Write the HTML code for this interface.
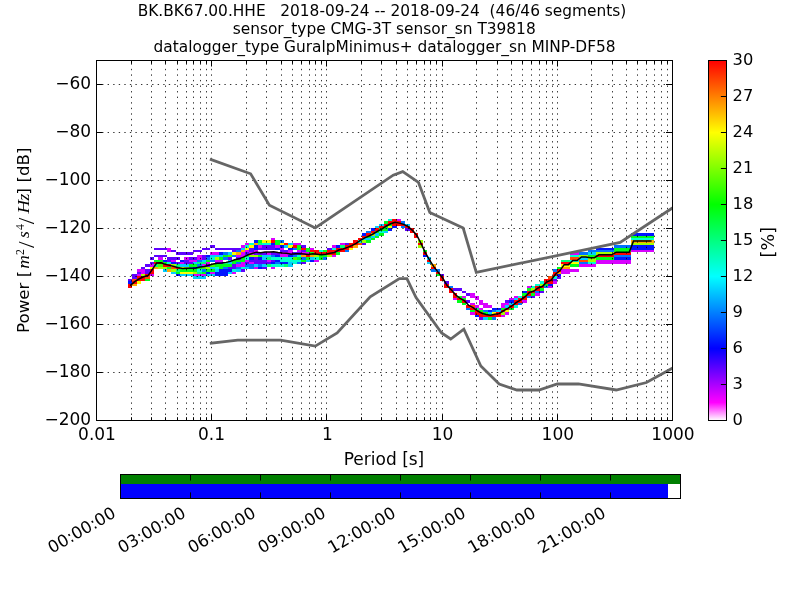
<!DOCTYPE html>
<html lang="en"><head><meta charset="utf-8"><title>PPSD BK.BK67.00.HHE</title>
<style>html,body{margin:0;padding:0;background:#fff;}svg{display:block;}text{font-family:"DejaVu Sans", "Liberation Sans", sans-serif;font-size:16.67px;fill:#000;}.m{font-family:"Liberation Serif", "DejaVu Serif", serif;font-style:italic;}.r{font-family:"Liberation Serif", "DejaVu Serif", serif;}.h{font-size:17px;}</style>
</head><body>
<svg width="800" height="600" viewBox="0 0 800 600">
<rect x="0" y="0" width="800" height="600" fill="#fff"/>
<defs><clipPath id="axclip"><rect x="96" y="60" width="576" height="360"/></clipPath>
<linearGradient id="pqlx" x1="0" y1="1" x2="0" y2="0">
<stop offset="0" stop-color="#ffffff"/>
<stop offset="0.05" stop-color="#ff00ff"/>
<stop offset="0.2" stop-color="#0000ff"/>
<stop offset="0.4" stop-color="#00ffff"/>
<stop offset="0.6" stop-color="#00ff00"/>
<stop offset="0.8" stop-color="#ffff00"/>
<stop offset="1" stop-color="#ff0000"/>
</linearGradient></defs>
<g opacity="0.999">
<text x="382" y="16" text-anchor="middle" style="font-size:15.38px" xml:space="preserve">BK.BK67.00.HHE   2018-09-24 -- 2018-09-24  (46/46 segments)</text>
<text x="384.2" y="34" text-anchor="middle" style="font-size:15.38px" xml:space="preserve">sensor_type CMG-3T sensor_sn T39818</text>
<text x="384.6" y="52" text-anchor="middle" style="font-size:15.38px" xml:space="preserve">datalogger_type GuralpMinimus+ datalogger_sn MINP-DF58</text>
<g shape-rendering="crispEdges" clip-path="url(#axclip)">
<rect x="388" y="219" width="4" height="2" fill="#00ffd3"/>
<rect x="392" y="219" width="5" height="2" fill="#ff0000"/>
<rect x="397" y="219" width="4" height="2" fill="#d900ff"/>
<rect x="384" y="221" width="4" height="3" fill="#00ff1a"/>
<rect x="388" y="221" width="13" height="3" fill="#ff0000"/>
<rect x="401" y="221" width="4" height="3" fill="#0073ff"/>
<rect x="379" y="224" width="5" height="2" fill="#00cfff"/>
<rect x="384" y="224" width="4" height="2" fill="#ff0000"/>
<rect x="388" y="224" width="4" height="2" fill="#00ff1a"/>
<rect x="392" y="224" width="13" height="2" fill="#ff0000"/>
<rect x="405" y="224" width="5" height="2" fill="#00cfff"/>
<rect x="375" y="226" width="4" height="2" fill="#00cfff"/>
<rect x="379" y="226" width="5" height="2" fill="#ff0000"/>
<rect x="384" y="226" width="4" height="2" fill="#00ff1a"/>
<rect x="388" y="226" width="4" height="2" fill="#fbff00"/>
<rect x="392" y="226" width="5" height="2" fill="#0016ff"/>
<rect x="401" y="226" width="4" height="2" fill="#0073ff"/>
<rect x="405" y="226" width="5" height="2" fill="#ff0000"/>
<rect x="371" y="228" width="4" height="3" fill="#0016ff"/>
<rect x="375" y="228" width="4" height="3" fill="#ff0000"/>
<rect x="379" y="228" width="9" height="3" fill="#00ff1a"/>
<rect x="388" y="228" width="4" height="3" fill="#0016ff"/>
<rect x="405" y="228" width="5" height="3" fill="#5e00ff"/>
<rect x="410" y="228" width="4" height="3" fill="#ff0000"/>
<rect x="366" y="231" width="5" height="2" fill="#0073ff"/>
<rect x="371" y="231" width="4" height="2" fill="#ff0000"/>
<rect x="375" y="231" width="4" height="2" fill="#00ff1a"/>
<rect x="379" y="231" width="5" height="2" fill="#00ffd3"/>
<rect x="384" y="231" width="4" height="2" fill="#00cfff"/>
<rect x="410" y="231" width="4" height="2" fill="#ff0000"/>
<rect x="362" y="233" width="4" height="3" fill="#0016ff"/>
<rect x="366" y="233" width="5" height="3" fill="#ff0000"/>
<rect x="371" y="233" width="4" height="3" fill="#9fff00"/>
<rect x="375" y="233" width="4" height="3" fill="#00cfff"/>
<rect x="379" y="233" width="5" height="3" fill="#00ff1a"/>
<rect x="414" y="233" width="4" height="3" fill="#ff0000"/>
<rect x="631" y="233" width="23" height="3" fill="#0016ff"/>
<rect x="362" y="236" width="4" height="2" fill="#ff0000"/>
<rect x="366" y="236" width="5" height="2" fill="#00ff1a"/>
<rect x="371" y="236" width="4" height="2" fill="#00cfff"/>
<rect x="375" y="236" width="4" height="2" fill="#00ff1a"/>
<rect x="414" y="236" width="4" height="2" fill="#ff0000"/>
<rect x="631" y="236" width="23" height="2" fill="#00ff1a"/>
<rect x="271" y="238" width="4" height="2" fill="#d900ff"/>
<rect x="358" y="238" width="4" height="2" fill="#ff0000"/>
<rect x="362" y="238" width="9" height="2" fill="#00cfff"/>
<rect x="371" y="238" width="4" height="2" fill="#00ff1a"/>
<rect x="631" y="238" width="23" height="2" fill="#00ffd3"/>
<rect x="254" y="240" width="4" height="3" fill="#0016ff"/>
<rect x="258" y="240" width="4" height="3" fill="#00ff1a"/>
<rect x="262" y="240" width="9" height="3" fill="#fbff00"/>
<rect x="271" y="240" width="4" height="3" fill="#ff0000"/>
<rect x="275" y="240" width="5" height="3" fill="#00ff1a"/>
<rect x="280" y="240" width="4" height="3" fill="#0073ff"/>
<rect x="353" y="240" width="5" height="3" fill="#ff0000"/>
<rect x="358" y="240" width="4" height="3" fill="#00ffd3"/>
<rect x="362" y="240" width="4" height="3" fill="#9fff00"/>
<rect x="366" y="240" width="5" height="3" fill="#00ff1a"/>
<rect x="418" y="240" width="5" height="3" fill="#9fff00"/>
<rect x="631" y="240" width="23" height="3" fill="#ffa600"/>
<rect x="245" y="243" width="4" height="2" fill="#d900ff"/>
<rect x="249" y="243" width="5" height="2" fill="#00ffd3"/>
<rect x="254" y="243" width="4" height="2" fill="#ffa600"/>
<rect x="258" y="243" width="4" height="2" fill="#00ff76"/>
<rect x="262" y="243" width="9" height="2" fill="#00ffd3"/>
<rect x="271" y="243" width="4" height="2" fill="#0016ff"/>
<rect x="275" y="243" width="5" height="2" fill="#00ff1a"/>
<rect x="280" y="243" width="4" height="2" fill="#fbff00"/>
<rect x="284" y="243" width="4" height="2" fill="#ff0000"/>
<rect x="288" y="243" width="5" height="2" fill="#00cfff"/>
<rect x="293" y="243" width="8" height="2" fill="#d900ff"/>
<rect x="340" y="243" width="5" height="2" fill="#d900ff"/>
<rect x="345" y="243" width="4" height="2" fill="#5e00ff"/>
<rect x="349" y="243" width="9" height="2" fill="#ff0000"/>
<rect x="358" y="243" width="4" height="2" fill="#ff4a00"/>
<rect x="362" y="243" width="4" height="2" fill="#5e00ff"/>
<rect x="418" y="243" width="5" height="2" fill="#ff0000"/>
<rect x="631" y="243" width="23" height="2" fill="#9fff00"/>
<rect x="210" y="245" width="5" height="3" fill="#5e00ff"/>
<rect x="241" y="245" width="4" height="3" fill="#d900ff"/>
<rect x="245" y="245" width="4" height="3" fill="#00ffd3"/>
<rect x="249" y="245" width="5" height="3" fill="#fbff00"/>
<rect x="254" y="245" width="4" height="3" fill="#0016ff"/>
<rect x="258" y="245" width="4" height="3" fill="#d900ff"/>
<rect x="262" y="245" width="13" height="3" fill="#5e00ff"/>
<rect x="275" y="245" width="5" height="3" fill="#d900ff"/>
<rect x="280" y="245" width="4" height="3" fill="#0016ff"/>
<rect x="284" y="245" width="4" height="3" fill="#00cfff"/>
<rect x="288" y="245" width="5" height="3" fill="#fbff00"/>
<rect x="293" y="245" width="4" height="3" fill="#ff0000"/>
<rect x="297" y="245" width="4" height="3" fill="#00ff1a"/>
<rect x="301" y="245" width="5" height="3" fill="#5e00ff"/>
<rect x="332" y="245" width="4" height="3" fill="#d900ff"/>
<rect x="336" y="245" width="4" height="3" fill="#0016ff"/>
<rect x="340" y="245" width="5" height="3" fill="#00ff76"/>
<rect x="345" y="245" width="8" height="3" fill="#ff0000"/>
<rect x="353" y="245" width="5" height="3" fill="#ffa600"/>
<rect x="418" y="245" width="5" height="3" fill="#9fff00"/>
<rect x="614" y="245" width="17" height="3" fill="#0073ff"/>
<rect x="631" y="245" width="23" height="3" fill="#0016ff"/>
<rect x="154" y="248" width="13" height="2" fill="#5e00ff"/>
<rect x="167" y="248" width="4" height="2" fill="#d900ff"/>
<rect x="202" y="248" width="8" height="2" fill="#5e00ff"/>
<rect x="215" y="248" width="26" height="2" fill="#5e00ff"/>
<rect x="241" y="248" width="4" height="2" fill="#00cfff"/>
<rect x="245" y="248" width="4" height="2" fill="#fbff00"/>
<rect x="249" y="248" width="5" height="2" fill="#5e00ff"/>
<rect x="254" y="248" width="4" height="2" fill="#0016ff"/>
<rect x="258" y="248" width="17" height="2" fill="#5e00ff"/>
<rect x="275" y="248" width="5" height="2" fill="#0016ff"/>
<rect x="280" y="248" width="4" height="2" fill="#d900ff"/>
<rect x="288" y="248" width="5" height="2" fill="#0016ff"/>
<rect x="293" y="248" width="4" height="2" fill="#0073ff"/>
<rect x="297" y="248" width="4" height="2" fill="#00ff1a"/>
<rect x="301" y="248" width="5" height="2" fill="#ff0000"/>
<rect x="306" y="248" width="4" height="2" fill="#00ff1a"/>
<rect x="310" y="248" width="4" height="2" fill="#d900ff"/>
<rect x="327" y="248" width="5" height="2" fill="#5e00ff"/>
<rect x="332" y="248" width="4" height="2" fill="#00ffd3"/>
<rect x="336" y="248" width="13" height="2" fill="#ff0000"/>
<rect x="349" y="248" width="4" height="2" fill="#fbff00"/>
<rect x="596" y="248" width="18" height="2" fill="#0016ff"/>
<rect x="614" y="248" width="17" height="2" fill="#00ff1a"/>
<rect x="631" y="248" width="23" height="2" fill="#0016ff"/>
<rect x="167" y="250" width="4" height="2" fill="#d900ff"/>
<rect x="171" y="250" width="5" height="2" fill="#5e00ff"/>
<rect x="193" y="250" width="9" height="2" fill="#5e00ff"/>
<rect x="232" y="250" width="4" height="2" fill="#5e00ff"/>
<rect x="236" y="250" width="5" height="2" fill="#0073ff"/>
<rect x="241" y="250" width="4" height="2" fill="#ffa600"/>
<rect x="245" y="250" width="4" height="2" fill="#d900ff"/>
<rect x="249" y="250" width="5" height="2" fill="#5e00ff"/>
<rect x="254" y="250" width="4" height="2" fill="#d900ff"/>
<rect x="280" y="250" width="8" height="2" fill="#5e00ff"/>
<rect x="288" y="250" width="5" height="2" fill="#d900ff"/>
<rect x="297" y="250" width="4" height="2" fill="#d900ff"/>
<rect x="301" y="250" width="5" height="2" fill="#5e00ff"/>
<rect x="306" y="250" width="4" height="2" fill="#00ff1a"/>
<rect x="310" y="250" width="9" height="2" fill="#ff0000"/>
<rect x="319" y="250" width="4" height="2" fill="#00ffd3"/>
<rect x="323" y="250" width="4" height="2" fill="#00ff1a"/>
<rect x="327" y="250" width="18" height="2" fill="#ff0000"/>
<rect x="345" y="250" width="4" height="2" fill="#0073ff"/>
<rect x="423" y="250" width="4" height="2" fill="#00ff1a"/>
<rect x="588" y="250" width="26" height="2" fill="#0073ff"/>
<rect x="614" y="250" width="17" height="2" fill="#00ff1a"/>
<rect x="631" y="250" width="23" height="2" fill="#d900ff"/>
<rect x="176" y="252" width="17" height="3" fill="#5e00ff"/>
<rect x="210" y="252" width="9" height="3" fill="#d900ff"/>
<rect x="219" y="252" width="4" height="3" fill="#0016ff"/>
<rect x="223" y="252" width="5" height="3" fill="#0073ff"/>
<rect x="228" y="252" width="4" height="3" fill="#00cfff"/>
<rect x="232" y="252" width="4" height="3" fill="#fbff00"/>
<rect x="236" y="252" width="5" height="3" fill="#ffa600"/>
<rect x="241" y="252" width="4" height="3" fill="#d900ff"/>
<rect x="245" y="252" width="4" height="3" fill="#5e00ff"/>
<rect x="249" y="252" width="5" height="3" fill="#d900ff"/>
<rect x="254" y="252" width="13" height="3" fill="#5e00ff"/>
<rect x="267" y="252" width="4" height="3" fill="#d900ff"/>
<rect x="271" y="252" width="9" height="3" fill="#5e00ff"/>
<rect x="280" y="252" width="13" height="3" fill="#d900ff"/>
<rect x="293" y="252" width="8" height="3" fill="#5e00ff"/>
<rect x="301" y="252" width="9" height="3" fill="#d900ff"/>
<rect x="310" y="252" width="4" height="3" fill="#00ff1a"/>
<rect x="314" y="252" width="22" height="3" fill="#ff0000"/>
<rect x="336" y="252" width="4" height="3" fill="#00ff1a"/>
<rect x="423" y="252" width="4" height="3" fill="#ff0000"/>
<rect x="570" y="252" width="9" height="3" fill="#d900ff"/>
<rect x="579" y="252" width="9" height="3" fill="#0073ff"/>
<rect x="588" y="252" width="8" height="3" fill="#00cfff"/>
<rect x="596" y="252" width="18" height="3" fill="#9fff00"/>
<rect x="614" y="252" width="17" height="3" fill="#ff0000"/>
<rect x="154" y="255" width="13" height="2" fill="#5e00ff"/>
<rect x="197" y="255" width="5" height="2" fill="#d900ff"/>
<rect x="202" y="255" width="4" height="2" fill="#5e00ff"/>
<rect x="206" y="255" width="4" height="2" fill="#0016ff"/>
<rect x="210" y="255" width="13" height="2" fill="#00cfff"/>
<rect x="223" y="255" width="5" height="2" fill="#00ff1a"/>
<rect x="228" y="255" width="4" height="2" fill="#43ff00"/>
<rect x="232" y="255" width="4" height="2" fill="#0073ff"/>
<rect x="236" y="255" width="9" height="2" fill="#d900ff"/>
<rect x="245" y="255" width="4" height="2" fill="#00ff76"/>
<rect x="249" y="255" width="9" height="2" fill="#9fff00"/>
<rect x="258" y="255" width="4" height="2" fill="#00ff1a"/>
<rect x="262" y="255" width="9" height="2" fill="#00cfff"/>
<rect x="271" y="255" width="4" height="2" fill="#0073ff"/>
<rect x="275" y="255" width="5" height="2" fill="#0016ff"/>
<rect x="280" y="255" width="8" height="2" fill="#d900ff"/>
<rect x="288" y="255" width="5" height="2" fill="#0016ff"/>
<rect x="293" y="255" width="4" height="2" fill="#0073ff"/>
<rect x="297" y="255" width="4" height="2" fill="#00ffd3"/>
<rect x="301" y="255" width="5" height="2" fill="#ffa600"/>
<rect x="306" y="255" width="4" height="2" fill="#ff0000"/>
<rect x="310" y="255" width="4" height="2" fill="#ffa600"/>
<rect x="314" y="255" width="5" height="2" fill="#9fff00"/>
<rect x="319" y="255" width="8" height="2" fill="#00ff1a"/>
<rect x="327" y="255" width="5" height="2" fill="#9fff00"/>
<rect x="332" y="255" width="4" height="2" fill="#d900ff"/>
<rect x="423" y="255" width="4" height="2" fill="#0016ff"/>
<rect x="570" y="255" width="9" height="2" fill="#00ffd3"/>
<rect x="579" y="255" width="9" height="2" fill="#9fff00"/>
<rect x="588" y="255" width="8" height="2" fill="#00ff1a"/>
<rect x="596" y="255" width="18" height="2" fill="#ff0000"/>
<rect x="614" y="255" width="17" height="2" fill="#0073ff"/>
<rect x="150" y="257" width="4" height="3" fill="#5e00ff"/>
<rect x="158" y="257" width="5" height="3" fill="#d900ff"/>
<rect x="167" y="257" width="13" height="3" fill="#5e00ff"/>
<rect x="184" y="257" width="5" height="3" fill="#d900ff"/>
<rect x="189" y="257" width="8" height="3" fill="#5e00ff"/>
<rect x="197" y="257" width="5" height="3" fill="#d900ff"/>
<rect x="202" y="257" width="4" height="3" fill="#5e00ff"/>
<rect x="206" y="257" width="4" height="3" fill="#0073ff"/>
<rect x="210" y="257" width="5" height="3" fill="#00ffd3"/>
<rect x="215" y="257" width="4" height="3" fill="#9fff00"/>
<rect x="219" y="257" width="4" height="3" fill="#00ff1a"/>
<rect x="223" y="257" width="5" height="3" fill="#0073ff"/>
<rect x="228" y="257" width="4" height="3" fill="#5e00ff"/>
<rect x="236" y="257" width="5" height="3" fill="#5e00ff"/>
<rect x="241" y="257" width="4" height="3" fill="#00ff1a"/>
<rect x="245" y="257" width="4" height="3" fill="#00ffd3"/>
<rect x="249" y="257" width="5" height="3" fill="#0016ff"/>
<rect x="254" y="257" width="4" height="3" fill="#5e00ff"/>
<rect x="258" y="257" width="4" height="3" fill="#0016ff"/>
<rect x="262" y="257" width="5" height="3" fill="#00cfff"/>
<rect x="267" y="257" width="4" height="3" fill="#00ff76"/>
<rect x="271" y="257" width="22" height="3" fill="#00ffd3"/>
<rect x="293" y="257" width="4" height="3" fill="#43ff00"/>
<rect x="297" y="257" width="4" height="3" fill="#00ff1a"/>
<rect x="301" y="257" width="5" height="3" fill="#0073ff"/>
<rect x="306" y="257" width="4" height="3" fill="#00ff1a"/>
<rect x="310" y="257" width="4" height="3" fill="#00cfff"/>
<rect x="314" y="257" width="5" height="3" fill="#00ffd3"/>
<rect x="319" y="257" width="4" height="3" fill="#00ff1a"/>
<rect x="323" y="257" width="4" height="3" fill="#0073ff"/>
<rect x="427" y="257" width="4" height="3" fill="#00cfff"/>
<rect x="570" y="257" width="9" height="3" fill="#ff4a00"/>
<rect x="579" y="257" width="9" height="3" fill="#00cfff"/>
<rect x="588" y="257" width="8" height="3" fill="#9fff00"/>
<rect x="596" y="257" width="18" height="3" fill="#00ff1a"/>
<rect x="614" y="257" width="17" height="3" fill="#0016ff"/>
<rect x="154" y="260" width="9" height="2" fill="#00ff1a"/>
<rect x="163" y="260" width="4" height="2" fill="#0016ff"/>
<rect x="167" y="260" width="4" height="2" fill="#5e00ff"/>
<rect x="171" y="260" width="5" height="2" fill="#d900ff"/>
<rect x="180" y="260" width="4" height="2" fill="#0016ff"/>
<rect x="184" y="260" width="5" height="2" fill="#5e00ff"/>
<rect x="189" y="260" width="8" height="2" fill="#d900ff"/>
<rect x="197" y="260" width="5" height="2" fill="#0073ff"/>
<rect x="202" y="260" width="4" height="2" fill="#00cfff"/>
<rect x="206" y="260" width="4" height="2" fill="#00ff1a"/>
<rect x="210" y="260" width="5" height="2" fill="#0073ff"/>
<rect x="215" y="260" width="8" height="2" fill="#d900ff"/>
<rect x="228" y="260" width="4" height="2" fill="#00cfff"/>
<rect x="232" y="260" width="13" height="2" fill="#00ff1a"/>
<rect x="245" y="260" width="4" height="2" fill="#d900ff"/>
<rect x="249" y="260" width="18" height="2" fill="#5e00ff"/>
<rect x="267" y="260" width="4" height="2" fill="#d900ff"/>
<rect x="271" y="260" width="4" height="2" fill="#5e00ff"/>
<rect x="275" y="260" width="5" height="2" fill="#0016ff"/>
<rect x="280" y="260" width="21" height="2" fill="#00ffd3"/>
<rect x="301" y="260" width="5" height="2" fill="#00ff1a"/>
<rect x="306" y="260" width="4" height="2" fill="#00cfff"/>
<rect x="310" y="260" width="4" height="2" fill="#0016ff"/>
<rect x="314" y="260" width="5" height="2" fill="#d900ff"/>
<rect x="427" y="260" width="4" height="2" fill="#ff0000"/>
<rect x="561" y="260" width="9" height="2" fill="#00ff76"/>
<rect x="570" y="260" width="9" height="2" fill="#00ffd3"/>
<rect x="579" y="260" width="9" height="2" fill="#ff4a00"/>
<rect x="588" y="260" width="8" height="2" fill="#9fff00"/>
<rect x="596" y="260" width="35" height="2" fill="#d900ff"/>
<rect x="150" y="262" width="4" height="2" fill="#5e00ff"/>
<rect x="154" y="262" width="9" height="2" fill="#ff0000"/>
<rect x="163" y="262" width="4" height="2" fill="#00ff1a"/>
<rect x="167" y="262" width="4" height="2" fill="#00ffd3"/>
<rect x="171" y="262" width="5" height="2" fill="#0016ff"/>
<rect x="176" y="262" width="4" height="2" fill="#5e00ff"/>
<rect x="180" y="262" width="4" height="2" fill="#d900ff"/>
<rect x="184" y="262" width="9" height="2" fill="#5e00ff"/>
<rect x="193" y="262" width="4" height="2" fill="#00cfff"/>
<rect x="197" y="262" width="9" height="2" fill="#00ff76"/>
<rect x="206" y="262" width="4" height="2" fill="#d900ff"/>
<rect x="215" y="262" width="8" height="2" fill="#5e00ff"/>
<rect x="223" y="262" width="5" height="2" fill="#00ff76"/>
<rect x="228" y="262" width="4" height="2" fill="#00cfff"/>
<rect x="232" y="262" width="4" height="2" fill="#00ff1a"/>
<rect x="236" y="262" width="5" height="2" fill="#0073ff"/>
<rect x="241" y="262" width="4" height="2" fill="#d900ff"/>
<rect x="245" y="262" width="4" height="2" fill="#5e00ff"/>
<rect x="249" y="262" width="5" height="2" fill="#d900ff"/>
<rect x="254" y="262" width="17" height="2" fill="#5e00ff"/>
<rect x="271" y="262" width="4" height="2" fill="#0016ff"/>
<rect x="275" y="262" width="5" height="2" fill="#0073ff"/>
<rect x="280" y="262" width="8" height="2" fill="#0016ff"/>
<rect x="288" y="262" width="5" height="2" fill="#00cfff"/>
<rect x="293" y="262" width="4" height="2" fill="#00ffd3"/>
<rect x="297" y="262" width="4" height="2" fill="#0073ff"/>
<rect x="301" y="262" width="5" height="2" fill="#5e00ff"/>
<rect x="427" y="262" width="4" height="2" fill="#00cfff"/>
<rect x="561" y="262" width="9" height="2" fill="#ff0000"/>
<rect x="570" y="262" width="9" height="2" fill="#fbff00"/>
<rect x="579" y="262" width="9" height="2" fill="#0073ff"/>
<rect x="588" y="262" width="8" height="2" fill="#00ffd3"/>
<rect x="596" y="262" width="35" height="2" fill="#d900ff"/>
<rect x="145" y="264" width="5" height="3" fill="#5e00ff"/>
<rect x="150" y="264" width="4" height="3" fill="#d900ff"/>
<rect x="154" y="264" width="4" height="3" fill="#00ff76"/>
<rect x="158" y="264" width="5" height="3" fill="#43ff00"/>
<rect x="163" y="264" width="8" height="3" fill="#ff0000"/>
<rect x="171" y="264" width="5" height="3" fill="#9fff00"/>
<rect x="176" y="264" width="4" height="3" fill="#00ff76"/>
<rect x="180" y="264" width="9" height="3" fill="#00cfff"/>
<rect x="189" y="264" width="8" height="3" fill="#00ff1a"/>
<rect x="197" y="264" width="5" height="3" fill="#0073ff"/>
<rect x="202" y="264" width="4" height="3" fill="#d900ff"/>
<rect x="206" y="264" width="4" height="3" fill="#5e00ff"/>
<rect x="210" y="264" width="5" height="3" fill="#43ff00"/>
<rect x="215" y="264" width="17" height="3" fill="#00ff1a"/>
<rect x="232" y="264" width="4" height="3" fill="#5e00ff"/>
<rect x="236" y="264" width="9" height="3" fill="#d900ff"/>
<rect x="245" y="264" width="9" height="3" fill="#0073ff"/>
<rect x="254" y="264" width="4" height="3" fill="#00cfff"/>
<rect x="258" y="264" width="4" height="3" fill="#0073ff"/>
<rect x="262" y="264" width="5" height="3" fill="#00cfff"/>
<rect x="267" y="264" width="4" height="3" fill="#00ff76"/>
<rect x="271" y="264" width="13" height="3" fill="#00ffd3"/>
<rect x="284" y="264" width="4" height="3" fill="#00ff76"/>
<rect x="288" y="264" width="5" height="3" fill="#00cfff"/>
<rect x="431" y="264" width="5" height="3" fill="#ffa600"/>
<rect x="561" y="264" width="9" height="3" fill="#fbff00"/>
<rect x="570" y="264" width="9" height="3" fill="#00ff1a"/>
<rect x="579" y="264" width="17" height="3" fill="#d900ff"/>
<rect x="141" y="267" width="4" height="2" fill="#5e00ff"/>
<rect x="150" y="267" width="4" height="2" fill="#fbff00"/>
<rect x="154" y="267" width="4" height="2" fill="#ffa600"/>
<rect x="158" y="267" width="9" height="2" fill="#9fff00"/>
<rect x="167" y="267" width="4" height="2" fill="#00ff1a"/>
<rect x="171" y="267" width="5" height="2" fill="#ff4a00"/>
<rect x="176" y="267" width="4" height="2" fill="#ff0000"/>
<rect x="180" y="267" width="4" height="2" fill="#fbff00"/>
<rect x="184" y="267" width="5" height="2" fill="#9fff00"/>
<rect x="189" y="267" width="4" height="2" fill="#0073ff"/>
<rect x="193" y="267" width="4" height="2" fill="#0016ff"/>
<rect x="197" y="267" width="5" height="2" fill="#00ff1a"/>
<rect x="202" y="267" width="4" height="2" fill="#43ff00"/>
<rect x="206" y="267" width="4" height="2" fill="#9fff00"/>
<rect x="210" y="267" width="5" height="2" fill="#00cfff"/>
<rect x="215" y="267" width="4" height="2" fill="#00ffd3"/>
<rect x="219" y="267" width="4" height="2" fill="#00ff1a"/>
<rect x="223" y="267" width="5" height="2" fill="#0073ff"/>
<rect x="228" y="267" width="8" height="2" fill="#5e00ff"/>
<rect x="236" y="267" width="5" height="2" fill="#0073ff"/>
<rect x="241" y="267" width="4" height="2" fill="#00ffd3"/>
<rect x="245" y="267" width="4" height="2" fill="#00cfff"/>
<rect x="249" y="267" width="5" height="2" fill="#0073ff"/>
<rect x="254" y="267" width="4" height="2" fill="#d900ff"/>
<rect x="258" y="267" width="4" height="2" fill="#0016ff"/>
<rect x="262" y="267" width="5" height="2" fill="#5e00ff"/>
<rect x="271" y="267" width="4" height="2" fill="#d900ff"/>
<rect x="431" y="267" width="5" height="2" fill="#ff0000"/>
<rect x="557" y="267" width="4" height="2" fill="#00ff1a"/>
<rect x="561" y="267" width="9" height="2" fill="#ffa600"/>
<rect x="137" y="269" width="8" height="3" fill="#d900ff"/>
<rect x="145" y="269" width="5" height="3" fill="#5e00ff"/>
<rect x="150" y="269" width="4" height="3" fill="#ff0000"/>
<rect x="163" y="269" width="4" height="3" fill="#00cfff"/>
<rect x="167" y="269" width="4" height="3" fill="#ffa600"/>
<rect x="171" y="269" width="5" height="3" fill="#9fff00"/>
<rect x="176" y="269" width="4" height="3" fill="#00ff76"/>
<rect x="180" y="269" width="17" height="3" fill="#00ff1a"/>
<rect x="197" y="269" width="5" height="3" fill="#00ffd3"/>
<rect x="202" y="269" width="4" height="3" fill="#0073ff"/>
<rect x="206" y="269" width="9" height="3" fill="#00ff1a"/>
<rect x="215" y="269" width="4" height="3" fill="#00cfff"/>
<rect x="219" y="269" width="13" height="3" fill="#0016ff"/>
<rect x="232" y="269" width="4" height="3" fill="#00ffd3"/>
<rect x="236" y="269" width="5" height="3" fill="#00cfff"/>
<rect x="241" y="269" width="4" height="3" fill="#5e00ff"/>
<rect x="431" y="269" width="9" height="3" fill="#0073ff"/>
<rect x="553" y="269" width="4" height="3" fill="#0073ff"/>
<rect x="557" y="269" width="4" height="3" fill="#ff0000"/>
<rect x="561" y="269" width="18" height="3" fill="#d900ff"/>
<rect x="137" y="272" width="4" height="2" fill="#5e00ff"/>
<rect x="141" y="272" width="4" height="2" fill="#d900ff"/>
<rect x="145" y="272" width="5" height="2" fill="#5e00ff"/>
<rect x="150" y="272" width="4" height="2" fill="#ff0000"/>
<rect x="171" y="272" width="5" height="2" fill="#00cfff"/>
<rect x="176" y="272" width="4" height="2" fill="#00ff1a"/>
<rect x="180" y="272" width="13" height="2" fill="#fbff00"/>
<rect x="193" y="272" width="4" height="2" fill="#9fff00"/>
<rect x="197" y="272" width="5" height="2" fill="#00ff76"/>
<rect x="202" y="272" width="4" height="2" fill="#00ff1a"/>
<rect x="206" y="272" width="4" height="2" fill="#0016ff"/>
<rect x="210" y="272" width="5" height="2" fill="#d900ff"/>
<rect x="215" y="272" width="13" height="2" fill="#0016ff"/>
<rect x="228" y="272" width="4" height="2" fill="#00cfff"/>
<rect x="232" y="272" width="4" height="2" fill="#d900ff"/>
<rect x="436" y="272" width="4" height="2" fill="#ff0000"/>
<rect x="553" y="272" width="4" height="2" fill="#ff0000"/>
<rect x="557" y="272" width="4" height="2" fill="#ffa600"/>
<rect x="561" y="272" width="9" height="2" fill="#d900ff"/>
<rect x="132" y="274" width="5" height="2" fill="#5e00ff"/>
<rect x="137" y="274" width="4" height="2" fill="#d900ff"/>
<rect x="141" y="274" width="4" height="2" fill="#9fff00"/>
<rect x="145" y="274" width="5" height="2" fill="#ff0000"/>
<rect x="150" y="274" width="4" height="2" fill="#d900ff"/>
<rect x="176" y="274" width="4" height="2" fill="#0016ff"/>
<rect x="180" y="274" width="13" height="2" fill="#00cfff"/>
<rect x="193" y="274" width="13" height="2" fill="#d900ff"/>
<rect x="206" y="274" width="9" height="2" fill="#00cfff"/>
<rect x="215" y="274" width="13" height="2" fill="#0016ff"/>
<rect x="436" y="274" width="4" height="2" fill="#00ff1a"/>
<rect x="440" y="274" width="4" height="2" fill="#5e00ff"/>
<rect x="553" y="274" width="4" height="2" fill="#ff0000"/>
<rect x="557" y="274" width="4" height="2" fill="#0016ff"/>
<rect x="132" y="276" width="5" height="3" fill="#5e00ff"/>
<rect x="137" y="276" width="8" height="3" fill="#ff0000"/>
<rect x="145" y="276" width="5" height="3" fill="#ff4a00"/>
<rect x="193" y="276" width="13" height="3" fill="#00cfff"/>
<rect x="440" y="276" width="4" height="3" fill="#ff0000"/>
<rect x="548" y="276" width="5" height="3" fill="#ff4a00"/>
<rect x="553" y="276" width="4" height="3" fill="#00ffd3"/>
<rect x="557" y="276" width="4" height="3" fill="#5e00ff"/>
<rect x="128" y="279" width="4" height="2" fill="#5e00ff"/>
<rect x="132" y="279" width="5" height="2" fill="#ff4a00"/>
<rect x="137" y="279" width="8" height="2" fill="#ff0000"/>
<rect x="145" y="279" width="5" height="2" fill="#00ff1a"/>
<rect x="440" y="279" width="4" height="2" fill="#ff0000"/>
<rect x="544" y="279" width="9" height="2" fill="#ff0000"/>
<rect x="553" y="279" width="4" height="2" fill="#5e00ff"/>
<rect x="128" y="281" width="4" height="3" fill="#0016ff"/>
<rect x="132" y="281" width="5" height="3" fill="#ff0000"/>
<rect x="137" y="281" width="4" height="3" fill="#fbff00"/>
<rect x="444" y="281" width="5" height="3" fill="#5e00ff"/>
<rect x="540" y="281" width="4" height="3" fill="#00ffd3"/>
<rect x="544" y="281" width="9" height="3" fill="#ff0000"/>
<rect x="553" y="281" width="4" height="3" fill="#d900ff"/>
<rect x="128" y="284" width="4" height="2" fill="#ff0000"/>
<rect x="132" y="284" width="5" height="2" fill="#ffa600"/>
<rect x="444" y="284" width="5" height="2" fill="#ff0000"/>
<rect x="535" y="284" width="5" height="2" fill="#00ffd3"/>
<rect x="540" y="284" width="4" height="2" fill="#9fff00"/>
<rect x="544" y="284" width="4" height="2" fill="#00ff1a"/>
<rect x="548" y="284" width="5" height="2" fill="#0016ff"/>
<rect x="128" y="286" width="4" height="2" fill="#ff0000"/>
<rect x="444" y="286" width="5" height="2" fill="#ff0000"/>
<rect x="449" y="286" width="4" height="2" fill="#0073ff"/>
<rect x="527" y="286" width="4" height="2" fill="#d900ff"/>
<rect x="531" y="286" width="4" height="2" fill="#00ffd3"/>
<rect x="535" y="286" width="9" height="2" fill="#ff0000"/>
<rect x="544" y="286" width="4" height="2" fill="#0073ff"/>
<rect x="548" y="286" width="5" height="2" fill="#d900ff"/>
<rect x="449" y="288" width="4" height="3" fill="#ff0000"/>
<rect x="453" y="288" width="9" height="3" fill="#5e00ff"/>
<rect x="527" y="288" width="4" height="3" fill="#00ff1a"/>
<rect x="531" y="288" width="4" height="3" fill="#9fff00"/>
<rect x="535" y="288" width="5" height="3" fill="#ff0000"/>
<rect x="540" y="288" width="4" height="3" fill="#00ff1a"/>
<rect x="449" y="291" width="4" height="2" fill="#ff0000"/>
<rect x="462" y="291" width="4" height="2" fill="#5e00ff"/>
<rect x="522" y="291" width="5" height="2" fill="#0016ff"/>
<rect x="527" y="291" width="8" height="2" fill="#ff0000"/>
<rect x="535" y="291" width="5" height="2" fill="#0073ff"/>
<rect x="540" y="291" width="4" height="2" fill="#5e00ff"/>
<rect x="453" y="293" width="4" height="3" fill="#ff0000"/>
<rect x="466" y="293" width="4" height="3" fill="#5e00ff"/>
<rect x="470" y="293" width="5" height="3" fill="#d900ff"/>
<rect x="522" y="293" width="5" height="3" fill="#00ff1a"/>
<rect x="527" y="293" width="4" height="3" fill="#ff0000"/>
<rect x="531" y="293" width="4" height="3" fill="#00ff1a"/>
<rect x="535" y="293" width="5" height="3" fill="#d900ff"/>
<rect x="453" y="296" width="4" height="2" fill="#ff0000"/>
<rect x="457" y="296" width="5" height="2" fill="#00ff1a"/>
<rect x="462" y="296" width="4" height="2" fill="#d900ff"/>
<rect x="470" y="296" width="9" height="2" fill="#d900ff"/>
<rect x="514" y="296" width="4" height="2" fill="#d900ff"/>
<rect x="518" y="296" width="4" height="2" fill="#00ffd3"/>
<rect x="522" y="296" width="5" height="2" fill="#ff0000"/>
<rect x="527" y="296" width="4" height="2" fill="#0073ff"/>
<rect x="531" y="296" width="4" height="2" fill="#5e00ff"/>
<rect x="453" y="298" width="4" height="2" fill="#d900ff"/>
<rect x="457" y="298" width="5" height="2" fill="#ff0000"/>
<rect x="462" y="298" width="4" height="2" fill="#00ff1a"/>
<rect x="475" y="298" width="4" height="2" fill="#d900ff"/>
<rect x="509" y="298" width="5" height="2" fill="#d900ff"/>
<rect x="514" y="298" width="4" height="2" fill="#00cfff"/>
<rect x="518" y="298" width="9" height="2" fill="#ff0000"/>
<rect x="457" y="300" width="5" height="3" fill="#00ff1a"/>
<rect x="462" y="300" width="4" height="3" fill="#ff0000"/>
<rect x="466" y="300" width="4" height="3" fill="#5e00ff"/>
<rect x="479" y="300" width="4" height="3" fill="#d900ff"/>
<rect x="505" y="300" width="4" height="3" fill="#5e00ff"/>
<rect x="509" y="300" width="5" height="3" fill="#0016ff"/>
<rect x="514" y="300" width="8" height="3" fill="#ff0000"/>
<rect x="522" y="300" width="5" height="3" fill="#d900ff"/>
<rect x="462" y="303" width="4" height="2" fill="#00ff1a"/>
<rect x="470" y="303" width="5" height="2" fill="#d900ff"/>
<rect x="479" y="303" width="9" height="2" fill="#d900ff"/>
<rect x="501" y="303" width="8" height="2" fill="#d900ff"/>
<rect x="509" y="303" width="5" height="2" fill="#00cfff"/>
<rect x="514" y="303" width="4" height="2" fill="#ff0000"/>
<rect x="518" y="303" width="4" height="2" fill="#0073ff"/>
<rect x="466" y="305" width="4" height="3" fill="#ff0000"/>
<rect x="470" y="305" width="5" height="3" fill="#ff4a00"/>
<rect x="475" y="305" width="4" height="3" fill="#d900ff"/>
<rect x="483" y="305" width="9" height="3" fill="#d900ff"/>
<rect x="501" y="305" width="4" height="3" fill="#d900ff"/>
<rect x="505" y="305" width="4" height="3" fill="#00cfff"/>
<rect x="509" y="305" width="5" height="3" fill="#ff0000"/>
<rect x="514" y="305" width="4" height="3" fill="#00ffd3"/>
<rect x="466" y="308" width="4" height="2" fill="#0073ff"/>
<rect x="470" y="308" width="5" height="2" fill="#ff0000"/>
<rect x="475" y="308" width="4" height="2" fill="#00ff76"/>
<rect x="479" y="308" width="4" height="2" fill="#d900ff"/>
<rect x="492" y="308" width="9" height="2" fill="#0016ff"/>
<rect x="501" y="308" width="4" height="2" fill="#00ff1a"/>
<rect x="505" y="308" width="4" height="2" fill="#ff0000"/>
<rect x="509" y="308" width="5" height="2" fill="#00ff1a"/>
<rect x="470" y="310" width="5" height="2" fill="#00ff1a"/>
<rect x="475" y="310" width="4" height="2" fill="#ff0000"/>
<rect x="479" y="310" width="4" height="2" fill="#00ff1a"/>
<rect x="483" y="310" width="5" height="2" fill="#0073ff"/>
<rect x="488" y="310" width="4" height="2" fill="#0016ff"/>
<rect x="492" y="310" width="4" height="2" fill="#0073ff"/>
<rect x="496" y="310" width="5" height="2" fill="#00cfff"/>
<rect x="501" y="310" width="4" height="2" fill="#ff0000"/>
<rect x="505" y="310" width="4" height="2" fill="#fbff00"/>
<rect x="470" y="312" width="5" height="3" fill="#d900ff"/>
<rect x="475" y="312" width="8" height="3" fill="#ff0000"/>
<rect x="483" y="312" width="5" height="3" fill="#00ff1a"/>
<rect x="488" y="312" width="4" height="3" fill="#00cfff"/>
<rect x="492" y="312" width="4" height="3" fill="#fbff00"/>
<rect x="496" y="312" width="5" height="3" fill="#ff0000"/>
<rect x="501" y="312" width="4" height="3" fill="#9fff00"/>
<rect x="505" y="312" width="4" height="3" fill="#d900ff"/>
<rect x="475" y="315" width="4" height="2" fill="#0016ff"/>
<rect x="479" y="315" width="22" height="2" fill="#ff0000"/>
<rect x="501" y="315" width="4" height="2" fill="#d900ff"/>
<rect x="479" y="317" width="4" height="3" fill="#5e00ff"/>
<rect x="483" y="317" width="5" height="3" fill="#00cfff"/>
<rect x="488" y="317" width="4" height="3" fill="#00ff1a"/>
<rect x="492" y="317" width="4" height="3" fill="#0073ff"/>
</g>
<path d="M131.5 420.5V60M151.5 420.5V60M165.5 420.5V60M177.5 420.5V60M186.5 420.5V60M193.5 420.5V60M200.5 420.5V60M206.5 420.5V60M211.5 420.5V60M246.5 420.5V60M266.5 420.5V60M281.5 420.5V60M292.5 420.5V60M301.5 420.5V60M309.5 420.5V60M315.5 420.5V60M321.5 420.5V60M326.5 420.5V60M361.5 420.5V60M381.5 420.5V60M396.5 420.5V60M407.5 420.5V60M416.5 420.5V60M424.5 420.5V60M430.5 420.5V60M436.5 420.5V60M442.5 420.5V60M476.5 420.5V60M497.5 420.5V60M511.5 420.5V60M522.5 420.5V60M531.5 420.5V60M539.5 420.5V60M546.5 420.5V60M552.5 420.5V60M557.5 420.5V60M591.5 420.5V60M612.5 420.5V60M626.5 420.5V60M637.5 420.5V60M646.5 420.5V60M654.5 420.5V60M661.5 420.5V60M667.5 420.5V60M96.5 372.5H672M96.5 324.5H672M96.5 276.5H672M96.5 228.5H672M96.5 180.5H672M96.5 132.5H672M96.5 84.5H672" fill="none" stroke="#000" stroke-width="0.8" stroke-dasharray="1.39 4.17"/>
<polyline clip-path="url(#axclip)" fill="none" stroke="#000" stroke-width="1.5" stroke-linejoin="miter" stroke-linecap="square" points="130.68,285.1 135.01,281.43 139.35,278.74 143.68,276.83 148.02,275.58 152.35,269.35 156.69,263.06 161.02,262.85 165.36,264.37 169.69,265.36 174.03,266.5 178.36,267.65 182.7,268.49 187.03,268.33 191.37,268.16 195.7,268.03 200.04,267.08 204.37,266.5 208.71,265.2 213.04,264 217.38,263.32 221.71,263.01 226.04,262.38 230.38,261.39 234.71,259.77 239.05,258.84 243.38,257.11 247.72,255.03 252.05,253.57 256.39,252.16 260.72,252.69 265.06,251.95 269.39,251.89 273.73,251.74 278.06,252.6 282.4,252.98 286.73,253.25 291.07,254.14 295.4,253.72 299.74,253.8 304.07,253.93 308.41,254.4 312.74,253.83 317.08,254.35 321.41,254.86 325.75,254.34 330.08,253.35 334.42,252.44 338.75,249.99 343.09,248.92 347.42,247.36 351.76,245.66 356.09,243.34 360.42,240.47 364.76,237.86 369.09,235.98 373.43,233.74 377.76,231.13 382.1,228.83 386.43,226.02 390.77,223.72 395.1,222.31 399.44,223.12 403.77,224.4 408.11,226.64 412.44,230.4 416.78,235.2 421.11,243.6 425.45,252.94 429.78,260.4 434.12,267.18 438.45,272.61 442.79,278.24 447.12,285.44 451.46,290.09 455.79,295.02 460.13,298.38 464.46,300.68 468.8,305.48 473.13,307.57 477.47,310.93 481.8,313.28 486.13,314.56 490.47,315.23 494.8,314.35 499.14,313.62 503.47,310.75 507.81,308.4 512.14,305.69 516.48,302.35 520.81,299.84 525.15,296.66 529.48,292.36 533.82,291.08 538.15,287.97 542.49,286.28 546.82,281.95 551.16,280.15 555.49,274.2 559.83,270.83 564.16,264.63 568.5,264.63 572.83,260.56 577.17,260.56 581.5,256.95 585.84,256.95 590.17,257.73 594.51,257.73 598.84,254.87 603.18,254.87 607.51,254.87 611.85,254.87 616.18,252.21 620.51,252.21 624.85,252.21 629.18,252.21 633.52,241.1 637.85,241.1 642.19,241.1 646.52,241.1 650.86,241.1"/>
<polyline clip-path="url(#axclip)" fill="none" stroke="#666" stroke-width="2.78" stroke-linejoin="miter" stroke-linecap="square" points="211.2,159.6 250.65,173.77 269.39,205.2 315.24,228 393.19,175.19 402.75,171.59 418.48,182.4 429.81,212.39 463.2,228.01 476.28,272.39 620.16,242.41 787.2,132.34"/>
<polyline clip-path="url(#axclip)" fill="none" stroke="#666" stroke-width="2.78" stroke-linejoin="miter" stroke-linecap="square" points="211.2,343.2 237.75,340.08 280.56,340.07 315.24,346.08 337.16,332.87 370.2,296.75 399.38,278.64 406.92,278.63 416.04,297.6 441.6,333 450.72,338.99 463.85,329.11 480.82,366.01 499.16,383.99 516.85,390 538.96,390 557.3,384 578.4,383.97 616.23,389.98 646.44,382.51 787.2,304.51"/>
<path d="M211.5 420V414.4M211.5 60.5V66.5M326.5 420V414.4M326.5 60.5V66.5M442.5 420V414.4M442.5 60.5V66.5M557.5 420V414.4M557.5 60.5V66.5" fill="none" stroke="#000" stroke-width="1"/>
<path d="M131.5 420V417.2M131.5 60.5V63.8M151.5 420V417.2M151.5 60.5V63.8M165.5 420V417.2M165.5 60.5V63.8M177.5 420V417.2M177.5 60.5V63.8M186.5 420V417.2M186.5 60.5V63.8M193.5 420V417.2M193.5 60.5V63.8M200.5 420V417.2M200.5 60.5V63.8M206.5 420V417.2M206.5 60.5V63.8M246.5 420V417.2M246.5 60.5V63.8M266.5 420V417.2M266.5 60.5V63.8M281.5 420V417.2M281.5 60.5V63.8M292.5 420V417.2M292.5 60.5V63.8M301.5 420V417.2M301.5 60.5V63.8M309.5 420V417.2M309.5 60.5V63.8M315.5 420V417.2M315.5 60.5V63.8M321.5 420V417.2M321.5 60.5V63.8M361.5 420V417.2M361.5 60.5V63.8M381.5 420V417.2M381.5 60.5V63.8M396.5 420V417.2M396.5 60.5V63.8M407.5 420V417.2M407.5 60.5V63.8M416.5 420V417.2M416.5 60.5V63.8M424.5 420V417.2M424.5 60.5V63.8M430.5 420V417.2M430.5 60.5V63.8M436.5 420V417.2M436.5 60.5V63.8M476.5 420V417.2M476.5 60.5V63.8M497.5 420V417.2M497.5 60.5V63.8M511.5 420V417.2M511.5 60.5V63.8M522.5 420V417.2M522.5 60.5V63.8M531.5 420V417.2M531.5 60.5V63.8M539.5 420V417.2M539.5 60.5V63.8M546.5 420V417.2M546.5 60.5V63.8M552.5 420V417.2M552.5 60.5V63.8M591.5 420V417.2M591.5 60.5V63.8M612.5 420V417.2M612.5 60.5V63.8M626.5 420V417.2M626.5 60.5V63.8M637.5 420V417.2M637.5 60.5V63.8M646.5 420V417.2M646.5 60.5V63.8M654.5 420V417.2M654.5 60.5V63.8M661.5 420V417.2M661.5 60.5V63.8M667.5 420V417.2M667.5 60.5V63.8" fill="none" stroke="#000" stroke-width="1"/>
<path d="M96.5 372.5H102.5M672 372.5H666M96.5 324.5H102.5M672 324.5H666M96.5 276.5H102.5M672 276.5H666M96.5 228.5H102.5M672 228.5H666M96.5 180.5H102.5M672 180.5H666M96.5 132.5H102.5M672 132.5H666M96.5 84.5H102.5M672 84.5H666" fill="none" stroke="#000" stroke-width="1"/>
<rect x="96.5" y="60.5" width="576" height="360" fill="none" stroke="#000" stroke-width="1"/>
<text class="h" x="97" y="439.5" text-anchor="middle">0.01</text>
<text class="h" x="211.5" y="439.5" text-anchor="middle">0.1</text>
<text class="h" x="327.4" y="439.5" text-anchor="middle">1</text>
<text class="h" x="442.6" y="439.5" text-anchor="middle">10</text>
<text class="h" x="557.8" y="439.5" text-anchor="middle">100</text>
<text class="h" x="673" y="439.5" text-anchor="middle">1000</text>
<text class="h" x="91.2" y="425" text-anchor="end">−200</text>
<text class="h" x="91.2" y="377" text-anchor="end">−180</text>
<text class="h" x="91.2" y="329" text-anchor="end">−160</text>
<text class="h" x="91.2" y="281" text-anchor="end">−140</text>
<text class="h" x="91.2" y="233" text-anchor="end">−120</text>
<text class="h" x="91.2" y="185" text-anchor="end">−100</text>
<text class="h" x="91.2" y="137" text-anchor="end">−80</text>
<text class="h" x="91.2" y="89" text-anchor="end">−60</text>
<text class="h" x="384" y="464.5" text-anchor="middle">Period [s]</text>
<g transform="translate(29 331.5) rotate(-90)">
<text x="-1.5" y="0">Power [</text>
<text x="62.7" y="0" class="m" style="font-size:17.6px" textLength="13.6" lengthAdjust="spacingAndGlyphs">m</text>
<text x="76.6" y="-5.4" class="r" style="font-size:11.7px">2</text>
<text x="83.4" y="5" class="r" style="font-size:23.5px">/</text>
<text x="93.6" y="0" class="m" style="font-size:17.6px">s</text>
<text x="101.4" y="-5.4" class="r" style="font-size:11.7px">4</text>
<text x="107.2" y="5" class="r" style="font-size:23.5px">/</text>
<text x="118" y="0" class="m" style="font-size:17.2px" textLength="13.6" lengthAdjust="spacingAndGlyphs">H</text>
<text x="131" y="0" class="m" style="font-size:17.6px">z</text>
<text x="137.1" y="0">] [dB]</text>
</g>
<rect x="708.5" y="60.5" width="18" height="360" fill="url(#pqlx)" stroke="#000" stroke-width="1"/>
<text x="732.6" y="424.8" style="font-size:16.3px">0</text>
<text x="732.6" y="388.8" style="font-size:16.3px">3</text>
<text x="732.6" y="352.8" style="font-size:16.3px">6</text>
<text x="732.6" y="316.8" style="font-size:16.3px">9</text>
<text x="732.6" y="280.8" style="font-size:16.3px">12</text>
<text x="732.6" y="244.8" style="font-size:16.3px">15</text>
<text x="732.6" y="208.8" style="font-size:16.3px">18</text>
<text x="732.6" y="172.8" style="font-size:16.3px">21</text>
<text x="732.6" y="136.8" style="font-size:16.3px">24</text>
<text x="732.6" y="100.8" style="font-size:16.3px">27</text>
<text x="732.6" y="64.8" style="font-size:16.3px">30</text>
<path d="M726.5 384.5H720.9M726.5 348.5H720.9M726.5 312.5H720.9M726.5 276.5H720.9M726.5 240.5H720.9M726.5 204.5H720.9M726.5 168.5H720.9M726.5 132.5H720.9M726.5 96.5H720.9" fill="none" stroke="#000" stroke-width="1"/>
<text transform="translate(773.6 242.2) rotate(-90)" text-anchor="middle" style="font-size:17.6px">[%]</text>
<g shape-rendering="crispEdges">
<rect x="120" y="474" width="560" height="10" fill="#008000"/>
<rect x="120" y="484" width="548" height="14" fill="#0000ff"/>
</g>
<path d="M190.5 498V492.4M190.5 474.5V480.5M260.5 498V492.4M260.5 474.5V480.5M330.5 498V492.4M330.5 474.5V480.5M400.5 498V492.4M400.5 474.5V480.5M470.5 498V492.4M470.5 474.5V480.5M540.5 498V492.4M540.5 474.5V480.5M610.5 498V492.4M610.5 474.5V480.5" fill="none" stroke="#000" stroke-width="1"/>
<rect x="120.5" y="474.5" width="560" height="24" fill="none" stroke="#000" stroke-width="1"/>
<text transform="translate(116.9 516.3) rotate(-30)" text-anchor="end">00:00:00</text>
<text transform="translate(186.9 516.3) rotate(-30)" text-anchor="end">03:00:00</text>
<text transform="translate(256.9 516.3) rotate(-30)" text-anchor="end">06:00:00</text>
<text transform="translate(326.9 516.3) rotate(-30)" text-anchor="end">09:00:00</text>
<text transform="translate(396.9 516.3) rotate(-30)" text-anchor="end">12:00:00</text>
<text transform="translate(466.9 516.3) rotate(-30)" text-anchor="end">15:00:00</text>
<text transform="translate(536.9 516.3) rotate(-30)" text-anchor="end">18:00:00</text>
<text transform="translate(606.9 516.3) rotate(-30)" text-anchor="end">21:00:00</text>
</g>
</svg></body></html>
